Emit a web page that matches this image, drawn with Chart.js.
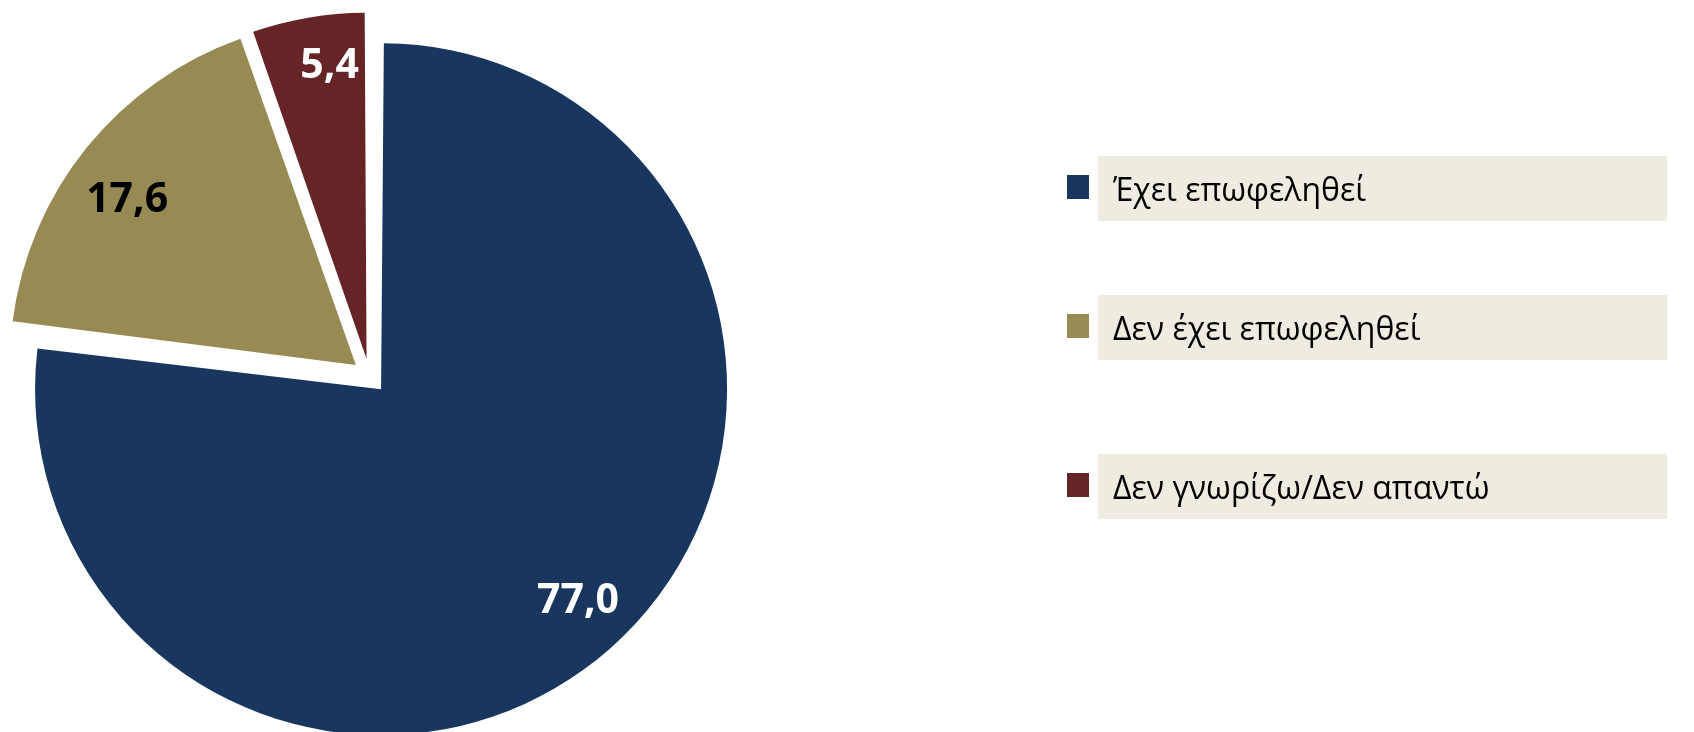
<!DOCTYPE html>
<html>
<head>
<meta charset="utf-8">
<script src="https://cdn.jsdelivr.net/npm/chart.js@4"></script>
<style>
  html, body { margin: 0; padding: 0; background: #fff; }
  #wrap { position: relative; width: 1694px; height: 732px; }
</style>
</head>
<body>
<div id="wrap"><canvas id="myPieChart" width="1694" height="732"></canvas></div>
<script>
var categories = ['Έχει επωφεληθεί', 'Δεν έχει επωφεληθεί', 'Δεν γνωρίζω/Δεν απαντώ'];
var values = [77.0, 17.6, 5.4];
var sliceColors = ['#19375e', '#978b53', '#652426'];
var labelColors = ['#ffffff', '#000000', '#ffffff'];

// legend rows (top of the shaded box)
var legendRowTops = [156, 295, 454];

var explode = 70;

function radiusFix(arc) {
    // chart.js grows an exploded slice's radius by this much, take it back
    var circ = arc.endAngle - arc.startAngle;
    return (arc.options.offset || 0) / 4 * (1 - Math.sin(Math.min(Math.PI, circ)));
}

var evenRadius = {
    id: 'evenRadius',
    afterDatasetsUpdate: function (chart) {
        chart.getDatasetMeta(0).data.forEach(function (arc) {
            arc.outerRadius = arc.outerRadius - radiusFix(arc);
        });
    }
};

var valueLabels = {
    id: 'valueLabels',
    afterDatasetsDraw: function (chart) {
        var ctx = chart.ctx;
        var meta = chart.getDatasetMeta(0);
        var fracs = [0.83, 0.82, 0.86];
        var turn = [-1.9, -2.6, 2.6]; // degrees off the bisector
        ctx.save();
        ctx.font = 'bold 41px "Open Sans"';
        ctx.textAlign = 'center';
        ctx.textBaseline = 'alphabetic';
        meta.data.forEach(function (arc, i) {
            var half = (arc.startAngle + arc.endAngle) / 2;
            var shift = (arc.options.offset || 0) / 4;
            var vx = arc.x + Math.cos(half) * shift;
            var vy = arc.y + Math.sin(half) * shift;
            var r = arc.outerRadius + radiusFix(arc);
            var a = half + turn[i] * Math.PI / 180;
            var txt = values[i].toFixed(1).replace('.', ',');
            var m = ctx.measureText('0');
            ctx.fillStyle = labelColors[i];
            ctx.fillText(txt, vx + Math.cos(a) * fracs[i] * r, vy + Math.sin(a) * fracs[i] * r + m.actualBoundingBoxAscent / 2);
        });
        ctx.restore();
    }
};

var boxLegend = {
    id: 'boxLegend',
    afterDraw: function (chart) {
        var ctx = chart.ctx;
        ctx.save();
        ctx.font = '32px "Open Sans"';
        ctx.textBaseline = 'alphabetic';
        categories.forEach(function (name, i) {
            var top = legendRowTops[i];
            ctx.fillStyle = '#eeebe0';
            ctx.fillRect(1098, top, 569, 65);
            ctx.fillStyle = sliceColors[i];
            ctx.fillRect(1067, top + 19, 22, 24);
            ctx.fillStyle = '#000';
            ctx.fillText(name, 1113, top + 45);
        });
        ctx.restore();
    }
};

var ctx = document.getElementById('myPieChart').getContext('2d');
var chart = new Chart(ctx, {
    type: 'pie',
    data: {
        labels: categories,
        datasets: [{
            data: values,
            backgroundColor: sliceColors,
            borderWidth: 0,
            offset: explode,
            hoverOffset: 0
        }]
    },
    options: {
        responsive: false,
        animation: false,
        radius: 346,
        layout: { padding: { left: 0, right: 955, top: 20, bottom: 0 } },
        plugins: {
            legend: { display: false },
            tooltip: { enabled: false }
        }
    },
    plugins: [evenRadius, valueLabels, boxLegend]
});
</script>
</body>
</html>
